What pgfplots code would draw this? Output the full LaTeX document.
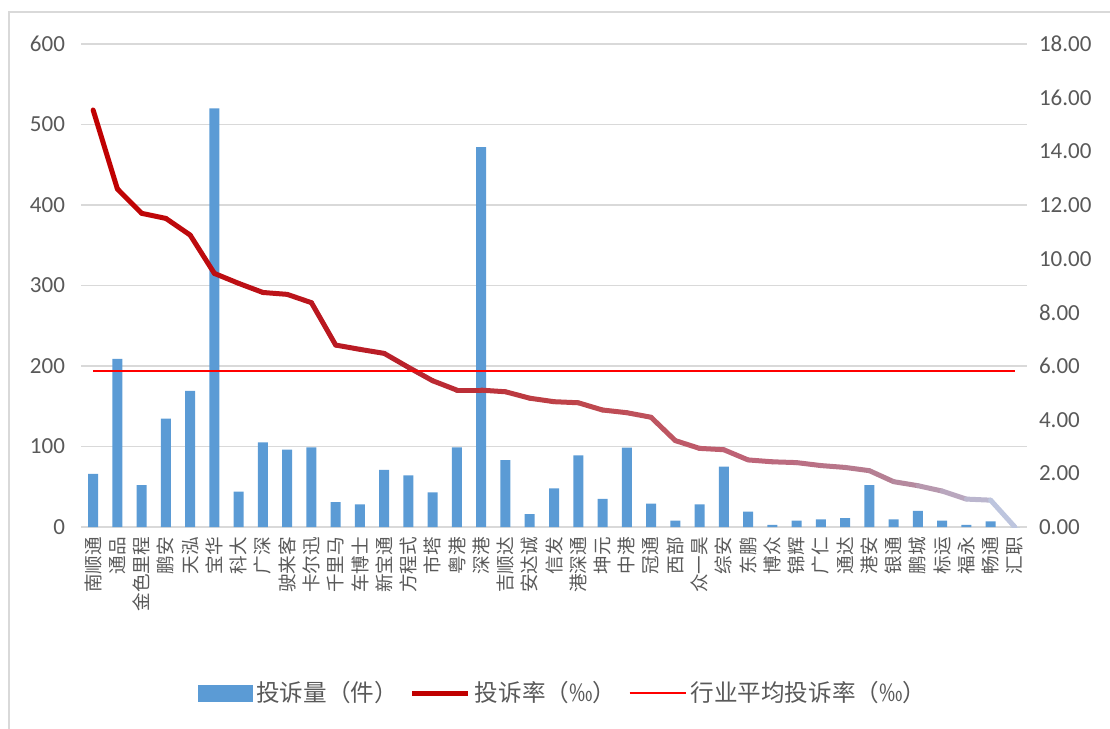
\documentclass[border=0pt]{standalone}
\usepackage{pgfplots}
\pgfplotsset{compat=1.18}
\usepackage{fontspec}
\setmainfont{Carlito}
\newfontfamily\cjk{Noto Sans CJK SC}[Scale=1.0]
\definecolor{barblue}{RGB}{91,155,213}
\definecolor{ratered}{RGB}{192,0,0}
\definecolor{avgred}{RGB}{255,0,0}
\definecolor{gridgray}{RGB}{217,217,217}
\definecolor{txtgray}{RGB}{89,89,89}
\definecolor{framegray}{RGB}{217,217,217}
\pgfplotsset{colormap={ratemap}{rgb255(0cm)=(192,0,0) rgb255(12cm)=(185,30,40) rgb255(20cm)=(190,70,75) rgb255(27cm)=(190,100,120) rgb255(33cm)=(180,130,150) rgb255(38cm)=(190,205,230)}}
\begin{document}
\begin{tikzpicture}
\useasboundingbox (-40.5pt,-101pt) rectangle (514.5pt,263.5pt);
\draw[framegray, line width=0.8pt] (-36pt,-101pt) -- (-36pt,257.5pt) -- (514.5pt,257.5pt);
\begin{axis}[
  at={(0,0)}, anchor=south west,
  scale only axis, width=473pt, height=241.5pt,
  xmin=-0.5, xmax=38.5, ymin=0, ymax=600,
  ytick={0,100,...,600},
  xtick={0,...,38},
  xticklabels={南顺通,通品,金色里程,鹏安,天泓,宝华,科大,广深,驶来客,卡尔迅,千里马,车博士,新宝通,方程式,市塔,粤港,深港,吉顺达,安达诚,信发,港深通,坤元,中港,冠通,西部,众一昊,综安,东鹏,博众,锦辉,广仁,通达,港安,银通,鹏城,标运,福永,畅通,汇职},
  xticklabel style={rotate=90, anchor=east, font=\cjk\fontsize{9.3}{9.3}\selectfont, color=txtgray, xshift=-1.5pt},
  yticklabel style={font=\fontsize{11.5}{12}\selectfont, color=txtgray, xshift=-4.5pt},
  /pgf/number format/assume math mode=true,
  major tick length=0pt,
  axis line style={draw=none},
  ymajorgrids, grid style={gridgray, line width=0.75pt},
  axis y line*=left, axis x line*=bottom,
]
\addplot[ybar, bar width=5pt, fill=barblue, draw=none] coordinates {
(0,66) (1,209) (2,52) (3,134.5) (4,169) (5,520) (6,44) (7,105) (8,96) (9,99)
(10,31) (11,28) (12,71) (13,64) (14,43) (15,99) (16,472) (17,83) (18,16) (19,48)
(20,89) (21,35) (22,98.5) (23,29) (24,8) (25,28) (26,75) (27,19) (28,2.5) (29,8)
(30,9.5) (31,11) (32,52) (33,9.5) (34,20) (35,8) (36,2.5) (37,7) (38,0)
};
\end{axis}
\begin{axis}[
  at={(0,0)}, anchor=south west,
  scale only axis, width=473pt, height=241.5pt,
  xmin=-0.5, xmax=38.5, ymin=0, ymax=18,
  ytick={0,2,...,18},
  axis y line*=right, axis x line=none,
  axis line style={draw=none},
  major tick length=0pt,
  yticklabel style={font=\fontsize{11.5}{12}\selectfont, color=txtgray, xshift=2.5pt,
    /pgf/number format/fixed, /pgf/number format/fixed zerofill, /pgf/number format/precision=2},
  /pgf/number format/assume math mode=true,
  legend style={at={(0.5106,-0.344)}, anchor=center, draw=none, fill=none,
    legend columns=-1, font=\cjk\fontsize{11.8}{11.8}\selectfont, text=txtgray,
    /tikz/every even column/.append style={column sep=4pt}},
  legend cell align=left,
]
\addlegendimage{legend image code/.code={\fill[barblue] (0pt,-4pt) rectangle (27pt,4pt);}}
\addlegendentry{投诉量（件）}
\addlegendimage{legend image code/.code={\draw[ratered, line width=2.5pt] (0pt,0pt) -- (28pt,0pt);}}
\addlegendentry{投诉率（‰）}
\addplot[mesh, colormap name=ratemap, point meta=x, point meta min=0, point meta max=38,
  line width=2.5pt, line join=round, line cap=round, forget plot] coordinates {
(0,15.54) (1,12.6) (2,11.69) (3,11.5) (4,10.88) (5,9.45) (6,9.08) (7,8.74) (8,8.67) (9,8.36)
(10,6.78) (11,6.62) (12,6.47) (13,5.95) (14,5.45) (15,5.1) (16,5.1) (17,5.04) (18,4.8) (19,4.67)
(20,4.63) (21,4.36) (22,4.26) (23,4.09) (24,3.22) (25,2.93) (26,2.88) (27,2.5) (28,2.43) (29,2.4)
(30,2.29) (31,2.22) (32,2.1) (33,1.69) (34,1.54) (35,1.34) (36,1.04) (37,1.0) (38,0)
};
\addplot[avgred, line width=1pt, legend image code/.code={\draw[avgred, line width=1pt] (0pt,0pt) -- (28pt,0pt);}] coordinates {(0,5.81) (38,5.81)};
\addlegendentry{行业平均投诉率（‰）}
\end{axis}
\end{tikzpicture}
\end{document}
